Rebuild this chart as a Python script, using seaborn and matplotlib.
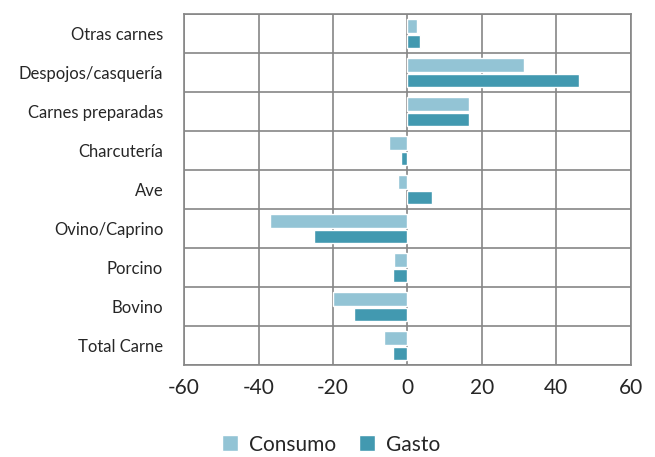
import pandas as pd
import numpy as np
import matplotlib
matplotlib.use("Agg")
import matplotlib.pyplot as plt
import seaborn as sns

# -----------------------------
# Data
# -----------------------------
categorias = ["Otras carnes", "Despojos/casquería", "Carnes preparadas", "Charcutería",
              "Ave", "Ovino/Caprino", "Porcino", "Bovino", "Total Carne"]
consumo = [2.5, 31.3, 16.6, -5.0, -2.5, -37.0, -3.6, -20.0, -6.4]
gasto = [3.5, 46.0, 16.5, -1.7, 6.7, -25.2, -3.8, -14.4, -3.8]
x_ticks = [-60, -40, -20, 0, 20, 40, 60]

df = pd.DataFrame({
    "categoria": categorias * 2,
    "valor": consumo + gasto,
    "serie": ["Consumo"] * len(categorias) + ["Gasto"] * len(categorias),
})

sns.set_style("white")
plt.rcParams["font.family"] = ["Lato", "DejaVu Sans"]

fig = plt.figure(figsize=(6.55, 4.57), dpi=100)
ax = fig.add_axes([0.281, 0.201, 0.682, 0.768])

sns.barplot(data=df, x="valor", y="categoria", hue="serie", order=categorias,
            hue_order=["Consumo", "Gasto"], palette=["#93C4D5", "#4299B0"],
            saturation=1, width=0.8, gap=0.12, orient="h", ax=ax, zorder=3)

ax.set_xlim(-60, 60)
ax.set_ylim(len(categorias) - 0.5, -0.5)
ax.set_xticks(x_ticks)
ax.set_xticklabels([str(t) for t in x_ticks], fontsize=15)
ax.set_yticks(range(len(categorias)))
ax.set_yticklabels(categorias, fontsize=12)
ax.set_yticks(np.arange(-0.5, len(categorias), 1), minor=True)
ax.tick_params(axis="both", which="both", length=0)
ax.tick_params(axis="x", pad=9)
ax.tick_params(axis="y", pad=15)
ax.set_xlabel("")
ax.set_ylabel("")

ax.grid(True, axis="x", which="major", color="#868686", linewidth=1.2, zorder=0)
ax.grid(True, axis="y", which="minor", color="#868686", linewidth=1.2, zorder=0)
ax.grid(False, axis="y", which="major")
for s in ax.spines.values():
    s.set_color("#868686")
    s.set_linewidth(1.2)

ax.legend(loc="lower center", bbox_to_anchor=(0.505, -0.036), bbox_transform=fig.transFigure,
          ncol=2, frameon=False, fontsize=15, handlelength=0.8, handleheight=0.8,
          columnspacing=1.1, handletextpad=0.5)

plt.savefig("out.png", dpi=100)
